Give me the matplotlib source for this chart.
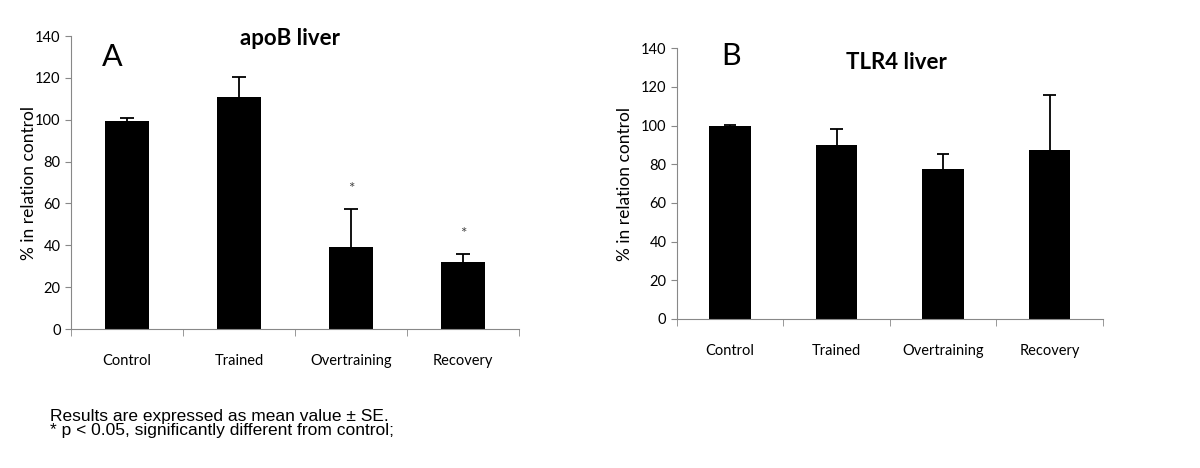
import numpy as np
import matplotlib
matplotlib.use("Agg")
import matplotlib.pyplot as plt

plt.rcParams['font.family'] = ['Lato', 'DejaVu Sans']

# data
groups = ["Control", "Trained", "Overtraining", "Recovery"]
apob_mean = [99.5, 110.7, 39.2, 31.9]
apob_se = [1.3, 9.6, 18.0, 3.8]
apob_star = [False, False, True, True]
tlr4_mean = [99.9, 90.0, 77.3, 87.3]
tlr4_se = [0.6, 8.2, 8.1, 28.4]
yticks = [0, 20, 40, 60, 80, 100, 120, 140]

fig = plt.figure(figsize=(12, 4.68), dpi=100)
ax1 = fig.add_axes([0.0592, 0.297, 0.3733, 0.626])
ax2 = fig.add_axes([0.564, 0.3184, 0.355, 0.5786])


def draw_panel(ax, mean, se, letter, letter_pos, title, title_pos, ypad, stars=None):
    x = np.arange(len(groups))
    mean = np.array(mean)
    se = np.array(se)
    ax.bar(x, mean, width=0.39, color="black", zorder=2)
    # one-sided error bars (upward only)
    ax.vlines(x, mean, mean + se, color="black", lw=1.3, zorder=3)
    ax.hlines(mean + se, x - 0.06, x + 0.06, color="black", lw=1.3, zorder=3)
    if stars:
        for i, s in enumerate(stars):
            if s:
                ax.text(x[i], mean[i] + se[i] + 9.5, "*", ha="center", va="center",
                        fontsize=11, color="#444444")
    ax.set_xlim(-0.5, len(groups) - 0.5)
    ax.set_ylim(0, 140)
    ax.set_yticks(yticks)
    ax.set_xticks(x)
    ax.set_xticklabels(groups, fontsize=10.5)
    ax.set_xticks(np.arange(len(groups) + 1) - 0.5, minor=True)
    ax.tick_params(axis="x", which="major", length=0, pad=18)
    ax.tick_params(axis="x", which="minor", length=5, color="#888888")
    ax.tick_params(axis="y", length=4, color="#888888", labelsize=10.5)
    for sp in ["top", "right"]:
        ax.spines[sp].set_visible(False)
    for sp in ["left", "bottom"]:
        ax.spines[sp].set_color("#888888")
    ax.set_ylabel("% in relation control", fontsize=12.5, labelpad=ypad)
    ax.text(letter_pos[0], letter_pos[1], letter, transform=ax.transAxes,
            fontsize=22, ha="left", va="center")
    ax.text(title_pos[0], title_pos[1], title, transform=ax.transAxes,
            fontsize=16, fontweight="bold", ha="center", va="center")


draw_panel(ax1, apob_mean, apob_se, "A", (0.068, 0.928), "apoB liver", (0.489, 0.99),
           -1, apob_star)
draw_panel(ax2, tlr4_mean, tlr4_se, "B", (0.105, 0.97), "TLR4 liver", (0.516, 0.948), 6)

fig.text(0.042, 0.109, "Results are expressed as mean value \u00b1 SE.",
         fontsize=12.5, family=["Liberation Sans", "DejaVu Sans"], va="center")
fig.text(0.042, 0.080, "* p < 0.05, significantly different from control;",
         fontsize=12.5, family=["Liberation Sans", "DejaVu Sans"], va="center")

fig.savefig("out.png", dpi=100)
